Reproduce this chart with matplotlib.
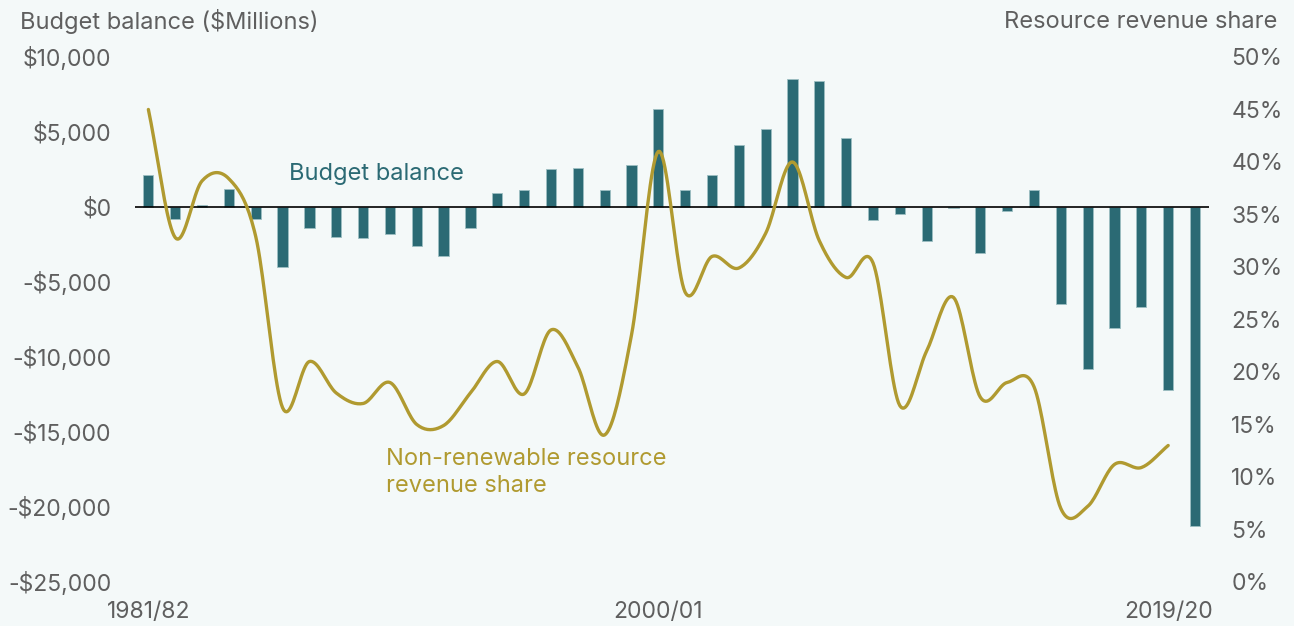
import numpy as np
import matplotlib
matplotlib.use('Agg')
import matplotlib.pyplot as plt

# fiscal years 1981/82 .. 2020/21
years = [f"{y}/{str(y + 1)[-2:]}" for y in range(1981, 2021)]

# budget balance, $ millions
balance = [2100, -800, 100, 1200, -800, -4000, -1400, -2000, -2100, -1800,
           -2600, -3300, -1400, 900, 1100, 2500, 2600, 1100, 2800, 6500,
           1100, 2100, 4100, 5200, 8500, 8400, 4600, -900, -500, -2300,
           -100, -3100, -300, 1100, -6500, -10800, -8100, -6700, -12200, -21300]

# non-renewable resource revenue share, % (1981/82 .. 2019/20)
share = [45.0, 32.8, 38.2, 38.4, 32.9, 16.6, 21.0, 18.0, 17.0, 19.0,
         15.0, 14.9, 18.0, 21.0, 17.9, 24.0, 20.5, 14.0, 23.5, 41.0,
         27.6, 31.0, 29.9, 33.2, 40.0, 32.5, 29.0, 30.4, 16.8, 22.0,
         27.1, 17.6, 19.0, 18.6, 7.0, 7.2, 11.2, 10.9, 13.0]

xtick_labels = ["1981/82", "2000/01", "2019/20"]

BG = '#f4f9f9'
TEAL = '#2b6a74'
GOLD = '#b09a30'
GREY = '#5f5f5f'

plt.rcParams['font.family'] = ['Inter', 'DejaVu Sans']


def catmull_rom(x, y, n=20):
    # smooth curve through the points, for drawing only
    x = np.asarray(x, float); y = np.asarray(y, float)
    px = np.concatenate([[2 * x[0] - x[1]], x, [2 * x[-1] - x[-2]]])
    py = np.concatenate([[2 * y[0] - y[1]], y, [2 * y[-1] - y[-2]]])
    t = np.linspace(0, 1, n, endpoint=False)
    xs, ys = [], []
    for i in range(1, len(px) - 2):
        for p, out in ((px, xs), (py, ys)):
            p0, p1, p2, p3 = p[i - 1], p[i], p[i + 1], p[i + 2]
            out.append(0.5 * (2 * p1 + (-p0 + p2) * t + (2 * p0 - 5 * p1 + 4 * p2 - p3) * t ** 2
                              + (-p0 + 3 * p1 - 3 * p2 + p3) * t ** 3))
    xs.append([x[-1]]); ys.append([y[-1]])
    return np.concatenate(xs), np.concatenate(ys)


fig = plt.figure(figsize=(12.94, 6.26), dpi=100, facecolor=BG)
ax = fig.add_axes([0.1043, 0.0703, 0.83, 0.8387])
ax.set_facecolor(BG)
ax2 = ax.twinx()

xb = np.arange(len(years))
ax.bar(xb, balance, width=0.38, color=TEAL, edgecolor='#9dbfc3', linewidth=0.6, zorder=2)
ax.axhline(0, color='black', lw=1.2, zorder=3)

sx, sy = catmull_rom(np.arange(len(share)), share)
ax2.plot(sx, sy, color=GOLD, lw=2.4, solid_capstyle='round', zorder=4)

ax.set_xlim(-0.5, 39.52)
ax.set_ylim(-25000, 10000)
ax2.set_ylim(0, 50)

ax.set_yticks(np.arange(-25000, 10001, 5000))
ax.set_yticklabels([f"-${abs(v):,}" if v < 0 else f"${v:,}" for v in range(-25000, 10001, 5000)])
ax2.set_yticks(np.arange(0, 51, 5))
ax2.set_yticklabels([f"{v}%" for v in range(0, 51, 5)])
ax.set_xticks([years.index(l) for l in xtick_labels])
ax.set_xticklabels(xtick_labels)

for a in (ax, ax2):
    for s in a.spines.values():
        s.set_visible(False)
    a.tick_params(length=0, labelsize=16.5, labelcolor=GREY)
ax.tick_params(axis='y', pad=17)
ax2.tick_params(axis='y', pad=16)
ax.tick_params(axis='x', pad=14)

ax.text(5.25, 2200, "Budget balance", color=TEAL, fontsize=17, ha='left', va='center', zorder=5)
ax.text(8.87, -17700, "Non-renewable resource\nrevenue share", color=GOLD, fontsize=17,
        ha='left', va='center', linespacing=1.3, zorder=5)

fig.text(20 / 1294, 1 - 21 / 626, "Budget balance ($Millions)", color=GREY, fontsize=17,
         ha='left', va='center')
fig.text(1277 / 1294, 1 - 22 / 626, "Resource revenue share", color=GREY, fontsize=17,
         ha='right', va='center')

fig.savefig('out.png', dpi=100, facecolor=BG)
